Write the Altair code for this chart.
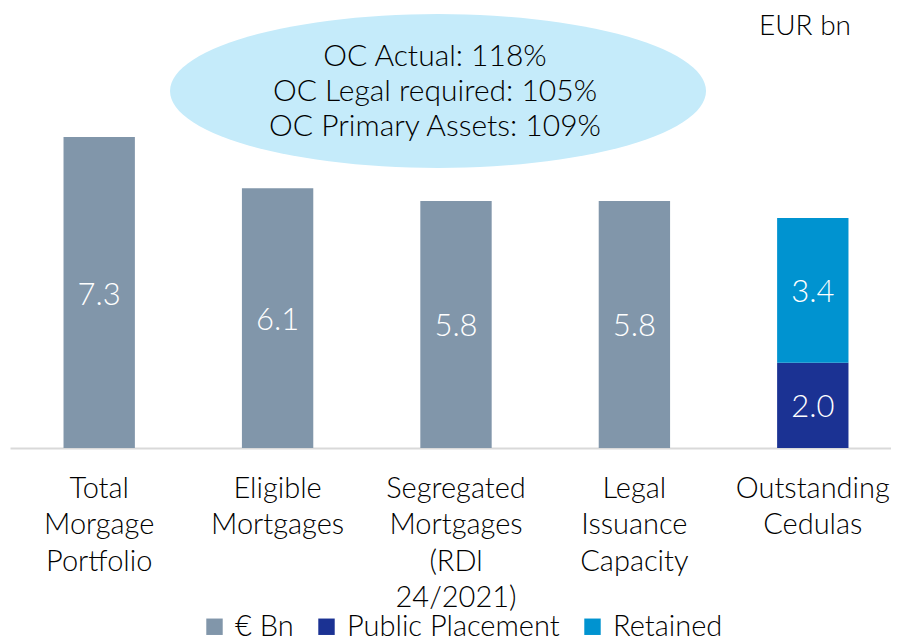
import math
import altair as alt
import pandas as pd

# ---- data ----
categories = [
    "Total|Morgage|Portfolio",
    "Eligible|Mortgages",
    "Segregated|Mortgages|(RDl|24/2021)",
    "Legal|Issuance|Capacity",
    "Outstanding|Cedulas",
]
bn_values = [7.3, 6.1, 5.8, 5.8]          # first four categories, series "€ Bn"
public_placement = [2.0]                  # Outstanding Cedulas
retained = [3.4]                          # Outstanding Cedulas
series_names = ["€ Bn", "Public Placement", "Retained"]
series_colors = ["#8196AA", "#1B3293", "#0093D0"]
oc_lines = ["OC Actual: 118%", "OC Legal required: 105%", "OC Primary Assets: 109%"]
unit_label = "EUR bn"

FONT = "Lato"
WEIGHT = 300

rows = []
for cat, v in zip(categories[:4], bn_values):
    rows.append({"category": cat, "series": series_names[0], "value": v, "order": 0, "mid": v / 2})
rows.append({"category": categories[4], "series": series_names[1], "value": public_placement[0],
             "order": 0, "mid": public_placement[0] / 2})
rows.append({"category": categories[4], "series": series_names[2], "value": retained[0],
             "order": 1, "mid": public_placement[0] + retained[0] / 2})
df = pd.DataFrame(rows)

x_enc = alt.X(
    "category:N",
    sort=categories,
    scale=alt.Scale(range=[0, 892], paddingInner=0.6, paddingOuter=0.3),
    axis=alt.Axis(
        title=None,
        labelExpr="split(datum.label, '|')",
        labelAngle=0,
        labelFont=FONT,
        labelFontWeight=WEIGHT,
        labelFontSize=29,
        labelLineHeight=36.5,
        labelColor="#000000",
        labelPadding=26,
        labelBaseline="top",
        labelLimit=400,
        labelOverlap=False,
        ticks=False,
        domainColor="#D9D9D9",
        domainWidth=2,
        grid=False,
    ),
)
y_scale = alt.Scale(domain=[0, 10], nice=False, zero=True)

bars = alt.Chart(df).mark_bar().encode(
    x=x_enc,
    y=alt.Y("value:Q", stack="zero", scale=y_scale, axis=None),
    color=alt.Color(
        "series:N",
        scale=alt.Scale(domain=series_names, range=series_colors),
        legend=alt.Legend(
            title=None,
            orient="none",
            direction="horizontal",
            legendX=190,
            legendY=590,
            labelFont=FONT,
            labelFontWeight=WEIGHT,
            labelFontSize=29,
            labelColor="#000000",
            labelLimit=400,
            symbolType="square",
            symbolSize=270,
            symbolStrokeWidth=0,
            labelOffset=6,
            columnPadding=18,
        ),
    ),
    order=alt.Order("order:Q"),
)

labels = alt.Chart(df).mark_text(
    color="white", font=FONT, fontWeight=WEIGHT, fontSize=31, baseline="middle", align="center", dy=3
).encode(
    x=alt.X("category:N", sort=categories),
    y=alt.Y("mid:Q", scale=y_scale),
    text=alt.Text("value:Q", format=".1f"),
)

# ellipse outline as a polygon in the unit symbol box
n_pts = 120
ellipse_path = "M" + " L".join(
    f"{math.cos(2 * math.pi * i / n_pts):.4f},{0.287 * math.sin(2 * math.pi * i / n_pts):.4f}"
    for i in range(n_pts)
) + " Z"
ellipse = alt.Chart(pd.DataFrame({"k": [0]})).mark_point(
    shape=ellipse_path, size=536 * 536, filled=True, fill="#C5EBFA", opacity=1, strokeWidth=0
).encode(x=alt.value(428), y=alt.value(69))

oc_text = alt.Chart(pd.DataFrame({"k": [0]})).mark_text(
    text=oc_lines, font=FONT, fontWeight=WEIGHT, fontSize=30, lineHeight=35, align="center",
    baseline="middle", color="#000000"
).encode(x=alt.value(425), y=alt.value(35))

unit_text = alt.Chart(pd.DataFrame({"k": [0]})).mark_text(
    text=unit_label, font=FONT, fontWeight=WEIGHT, fontSize=28, align="right", baseline="middle",
    color="#000000"
).encode(x=alt.value(841), y=alt.value(5))

chart = (
    alt.layer(bars, ellipse, labels, oc_text, unit_text)
    .properties(
        width=881,
        height=426,
        autosize=alt.AutoSizeParams(type="none"),
        padding={"left": 2, "top": 14, "right": 0, "bottom": 190},
    )
    .configure_view(stroke=None)
)

chart.save("out.html", embed_options={"renderer": "svg", "actions": False})
